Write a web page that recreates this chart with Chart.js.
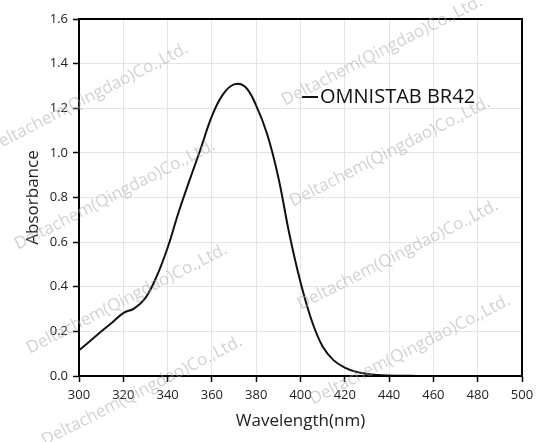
<!DOCTYPE html>
<html>
<head>
<meta charset="utf-8">
<script src="https://cdn.jsdelivr.net/npm/chart.js@4.4.1/dist/chart.umd.min.js"></script>
<style>
  html, body { margin: 0; padding: 0; background: #fff; }
  canvas { display: block; }
</style>
</head>
<body>
<canvas id="myChart" width="552" height="442"></canvas>
<script>
// Wavelength (nm), every 5 nm, and absorbance
const wavelengths = [300, 305, 310, 315, 320, 325, 330, 335, 340, 345, 350, 355, 360, 365, 370, 375, 380, 385, 390, 395,
  400, 405, 410, 415, 420, 425, 430, 435, 440, 445, 450, 455, 460, 470, 480, 490, 500];
const absorbance = [0.115, 0.157, 0.199, 0.240, 0.282, 0.303, 0.350, 0.445, 0.575, 0.735, 0.880, 1.020, 1.165, 1.262, 1.307, 1.296, 1.212, 1.082, 0.890, 0.635,
  0.420, 0.250, 0.132, 0.070, 0.038, 0.019, 0.009, 0.004, 0.002, 0.001, 0.001, 0, 0, 0, 0, 0, 0];
const seriesName = 'OMNISTAB BR42';
const xTitle = 'Wavelength(nm)';
const yTitle = 'Absorbance';
const watermark = 'Deltachem(Qingdao)Co.,Ltd.';
const watermarkSpots = [[88, 98], [382, 51], [115, 195], [390, 152], [127, 299], [398, 255], [142, 391], [410, 350]];

const FONT = '"Open Sans", "Noto Sans", sans-serif';

// Box round the plot plus the legend line and text
const framePlugin = {
  id: 'frame',
  afterDatasetsDraw(chart) {
    const { ctx, chartArea: a } = chart;
    ctx.save();
    ctx.strokeStyle = '#000';
    ctx.lineWidth = 2;
    ctx.strokeRect(a.left, a.top, a.right - a.left, a.bottom - a.top);

    // legend
    ctx.lineWidth = 2;
    ctx.strokeStyle = '#111';
    ctx.beginPath();
    ctx.moveTo(302, 97);
    ctx.lineTo(318, 97);
    ctx.stroke();
    ctx.fillStyle = '#111';
    ctx.font = '20px ' + FONT;
    ctx.textBaseline = 'middle';
    ctx.textAlign = 'left';
    ctx.fillText(seriesName, 320, 97);
    ctx.restore();
  },
  afterDraw(chart) {
    const { ctx } = chart;
    ctx.save();
    ctx.fillStyle = 'rgba(165, 165, 165, 0.5)';
    ctx.font = '17px ' + FONT;
    ctx.textAlign = 'center';
    ctx.textBaseline = 'middle';
    for (const [x, y] of watermarkSpots) {
      ctx.save();
      ctx.translate(x, y);
      ctx.rotate(-27 * Math.PI / 180);
      ctx.fillText(watermark, 0, 0);
      ctx.restore();
    }
    ctx.restore();
  }
};

const points = wavelengths.map((w, i) => ({ x: w, y: absorbance[i] }));

new Chart(document.getElementById('myChart').getContext('2d'), {
  type: 'line',
  data: {
    datasets: [{
      label: seriesName,
      data: points,
      borderColor: '#111',
      borderWidth: 2,
      pointRadius: 0,
      tension: 0.4,
      fill: false,
    }],
  },
  options: {
    responsive: false,
    animation: false,
    layout: { padding: { top: 19, right: 30, left: 0, bottom: 0 } },
    plugins: {
      legend: { display: false },
      tooltip: { enabled: false },
    },
    scales: {
      x: {
        type: 'linear',
        min: 300,
        max: 500,
        afterFit: s => { s.height = 66; },
        ticks: {
          stepSize: 20,
          color: '#222',
          padding: 5,
          maxRotation: 0,
          font: { family: FONT, size: 13 },
        },
        grid: {
          color: '#e4e4e4',
          lineWidth: 1,
          tickColor: '#000',
          tickLength: 6,
          tickWidth: 1.5,
        },
        border: { color: '#000', width: 2 },
        title: {
          display: true,
          text: xTitle,
          color: '#222',
          font: { family: FONT, size: 17 },
          padding: { top: 11, bottom: 11 },
        },
      },
      y: {
        min: 0,
        max: 1.6,
        afterFit: s => { s.width = 79; },
        ticks: {
          stepSize: 0.2,
          color: '#222',
          padding: 5,
          font: { family: FONT, size: 13 },
          callback: v => Number(v).toFixed(1),
        },
        grid: {
          color: '#e4e4e4',
          lineWidth: 1,
          tickColor: '#000',
          tickLength: 6,
          tickWidth: 1.5,
        },
        border: { color: '#000', width: 2 },
        title: {
          display: true,
          text: yTitle,
          color: '#222',
          font: { family: FONT, size: 17 },
          padding: { top: 23, bottom: 23 },
        },
      },
    },
  },
  plugins: [framePlugin],
});
</script>
</body>
</html>
